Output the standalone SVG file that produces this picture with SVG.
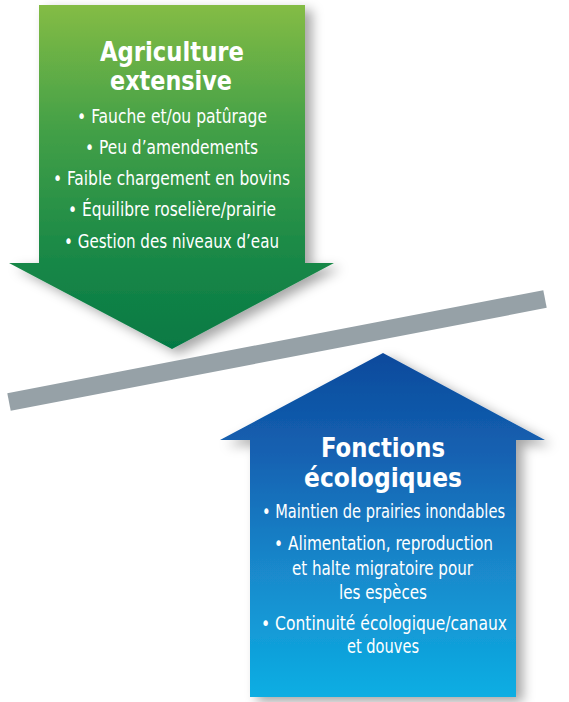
<svg xmlns="http://www.w3.org/2000/svg" width="569" height="702" viewBox="0 0 569 702">
<defs>
<linearGradient id="gGreen" x1="0" y1="0" x2="0" y2="1">
<stop offset="0" stop-color="#84bc44"/>
<stop offset="0.35" stop-color="#45a147"/>
<stop offset="0.7" stop-color="#1c8a47"/>
<stop offset="1" stop-color="#057944"/>
</linearGradient>
<linearGradient id="gBlue" x1="0" y1="0" x2="0" y2="1">
<stop offset="0" stop-color="#0c4a9c"/>
<stop offset="0.3" stop-color="#1462b2"/>
<stop offset="0.65" stop-color="#1a8bcd"/>
<stop offset="1" stop-color="#0aaee3"/>
</linearGradient>
<filter id="shadow" x="-10%" y="-10%" width="130%" height="130%">
<feDropShadow dx="7" dy="5" stdDeviation="6" flood-color="#000" flood-opacity="0.35"/>
</filter>
</defs>
<style>
text { fill: #ffffff; text-anchor: middle; font-family: "Liberation Sans Narrow", "DejaVu Sans Condensed", "Liberation Sans", sans-serif; }
.title { font-size: 26px; font-weight: bold; }
.item { font-size: 19.5px; }
</style>
<rect width="569" height="702" fill="#ffffff"/>
<g id="agriculture">
<polygon points="39,5 305,5 305,263 334,263 172,349 9,263 39,263" fill="url(#gGreen)" filter="url(#shadow)"/>
<text class="title" x="172" y="61" textLength="144" lengthAdjust="spacingAndGlyphs">Agriculture</text>
<text class="title" x="171" y="90" textLength="122" lengthAdjust="spacingAndGlyphs">extensive</text>
<text class="item" x="172" y="123" textLength="190" lengthAdjust="spacingAndGlyphs">• Fauche et/ou patûrage</text>
<text class="item" x="171.5" y="154" textLength="173" lengthAdjust="spacingAndGlyphs">• Peu d’amendements</text>
<text class="item" x="171.5" y="185" textLength="237" lengthAdjust="spacingAndGlyphs">• Faible chargement en bovins</text>
<text class="item" x="172" y="216" textLength="208" lengthAdjust="spacingAndGlyphs">• Équilibre roselière/prairie</text>
<text class="item" x="171.5" y="248" textLength="215" lengthAdjust="spacingAndGlyphs">• Gestion des niveaux d’eau</text>
</g>
<g id="connectors">
<line x1="9" y1="402" x2="545" y2="299" stroke="#96a1a7" stroke-width="18"/>
</g>
<g id="fonctions">
<polygon points="383,353 545,440 516,440 516,697 250,697 250,440 220,440" fill="url(#gBlue)" filter="url(#shadow)"/>
<text class="title" x="383" y="457" textLength="124" lengthAdjust="spacingAndGlyphs">Fonctions</text>
<text class="title" x="383" y="487" textLength="158" lengthAdjust="spacingAndGlyphs">écologiques</text>
<text class="item" x="383.5" y="518" textLength="243" lengthAdjust="spacingAndGlyphs">• Maintien de prairies inondables</text>
<text class="item" x="383.5" y="550" textLength="219" lengthAdjust="spacingAndGlyphs">• Alimentation, reproduction</text>
<text class="item" x="382.5" y="575" textLength="181" lengthAdjust="spacingAndGlyphs">et halte migratoire pour</text>
<text class="item" x="383" y="599" textLength="88" lengthAdjust="spacingAndGlyphs">les espèces</text>
<text class="item" x="384" y="630" textLength="246" lengthAdjust="spacingAndGlyphs">• Continuité écologique/canaux</text>
<text class="item" x="383" y="653" textLength="72" lengthAdjust="spacingAndGlyphs">et douves</text>
</g>
</svg>
